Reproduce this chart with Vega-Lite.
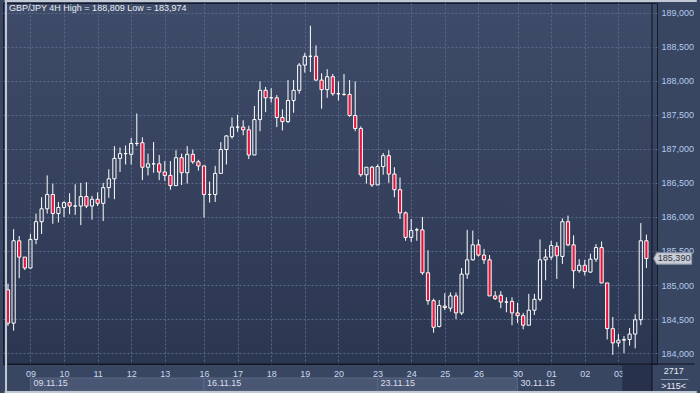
{
  "$schema": "https://vega.github.io/schema/vega-lite/v6.json",
  "width": 654,
  "height": 361,
  "autosize": {"type": "none"},
  "padding": {"left": 3, "top": 3, "right": 43, "bottom": 29},
  "background": "#394661",
  "config": {
    "view": {
      "stroke": "#151b2b",
      "strokeWidth": 1,
      "fill": {"gradient": "linear", "x1": 0, "y1": 0, "x2": 0, "y2": 1,
        "stops": [{"offset": 0, "color": "#3f4c69"}, {"offset": 1, "color": "#2b3651"}]}
    },
    "font": "Liberation Sans",
    "axis": {
      "grid": true, "gridDash": [2, 2], "gridColor": "#5a6989", "gridWidth": 1,
      "ticks": false, "domain": false, "labelFont": "Liberation Sans", "labelFontSize": 9,
      "labelOverlap": false, "labelFlush": false, "labelBound": false, "title": null
    }
  },
  "datasets": {
    "candles": [
      {"i":0,"o":184.93,"h":185.02,"l":184.40,"c":184.44},
      {"i":1,"o":184.44,"h":185.82,"l":184.33,"c":185.65},
      {"i":2,"o":185.65,"h":185.72,"l":185.10,"c":185.41},
      {"i":3,"o":185.41,"h":185.41,"l":185.22,"c":185.25},
      {"i":4,"o":185.25,"h":185.75,"l":185.24,"c":185.67},
      {"i":5,"o":185.67,"h":186.05,"l":185.60,"c":185.93},
      {"i":6,"o":185.93,"h":186.29,"l":185.75,"c":186.12},
      {"i":7,"o":186.12,"h":186.61,"l":186.05,"c":186.33},
      {"i":8,"o":186.33,"h":186.49,"l":185.90,"c":186.05},
      {"i":9,"o":186.05,"h":186.22,"l":185.92,"c":186.14},
      {"i":10,"o":186.14,"h":186.23,"l":186.00,"c":186.21},
      {"i":11,"o":186.21,"h":186.35,"l":186.04,"c":186.16},
      {"i":12,"o":186.16,"h":186.48,"l":186.03,"c":186.16},
      {"i":13,"o":186.16,"h":186.50,"l":185.88,"c":186.30},
      {"i":14,"o":186.30,"h":186.51,"l":186.13,"c":186.16},
      {"i":15,"o":186.16,"h":186.31,"l":185.96,"c":186.26},
      {"i":16,"o":186.26,"h":186.36,"l":186.16,"c":186.20},
      {"i":17,"o":186.20,"h":186.50,"l":185.94,"c":186.43},
      {"i":18,"o":186.43,"h":186.70,"l":186.28,"c":186.56},
      {"i":19,"o":186.56,"h":187.04,"l":186.26,"c":186.86},
      {"i":20,"o":186.86,"h":187.02,"l":186.66,"c":186.93},
      {"i":21,"o":186.93,"h":187.05,"l":186.77,"c":186.93},
      {"i":22,"o":186.92,"h":187.16,"l":186.77,"c":187.08},
      {"i":23,"o":187.08,"h":187.52,"l":187.04,"c":187.08},
      {"i":24,"o":187.09,"h":187.17,"l":186.54,"c":186.73},
      {"i":25,"o":186.73,"h":186.93,"l":186.61,"c":186.78},
      {"i":26,"o":186.78,"h":187.10,"l":186.65,"c":186.78},
      {"i":27,"o":186.78,"h":186.91,"l":186.54,"c":186.66},
      {"i":28,"o":186.66,"h":186.82,"l":186.53,"c":186.61},
      {"i":29,"o":186.61,"h":186.82,"l":186.40,"c":186.46},
      {"i":30,"o":186.46,"h":186.98,"l":186.46,"c":186.87},
      {"i":31,"o":186.87,"h":186.93,"l":186.47,"c":186.65},
      {"i":32,"o":186.65,"h":187.04,"l":186.49,"c":186.92},
      {"i":33,"o":186.92,"h":186.99,"l":186.78,"c":186.81},
      {"i":34,"o":186.81,"h":186.84,"l":186.68,"c":186.75},
      {"i":35,"o":186.75,"h":186.75,"l":185.99,"c":186.33},
      {"i":36,"o":186.33,"h":186.52,"l":186.21,"c":186.33},
      {"i":37,"o":186.33,"h":186.75,"l":186.22,"c":186.64},
      {"i":38,"o":186.64,"h":187.10,"l":186.64,"c":186.99},
      {"i":39,"o":186.99,"h":187.20,"l":186.77,"c":187.19},
      {"i":40,"o":187.18,"h":187.46,"l":187.15,"c":187.32},
      {"i":41,"o":187.32,"h":187.50,"l":187.25,"c":187.32},
      {"i":42,"o":187.32,"h":187.42,"l":187.20,"c":187.28},
      {"i":43,"o":187.28,"h":187.34,"l":186.85,"c":186.91},
      {"i":44,"o":186.91,"h":187.63,"l":186.91,"c":187.43},
      {"i":45,"o":187.43,"h":187.99,"l":187.26,"c":187.86},
      {"i":46,"o":187.86,"h":187.91,"l":187.54,"c":187.75},
      {"i":47,"o":187.75,"h":187.89,"l":187.68,"c":187.75},
      {"i":48,"o":187.75,"h":187.79,"l":187.32,"c":187.46},
      {"i":49,"o":187.46,"h":187.58,"l":187.27,"c":187.40},
      {"i":50,"o":187.40,"h":188.01,"l":187.38,"c":187.71},
      {"i":51,"o":187.71,"h":188.01,"l":187.53,"c":187.86},
      {"i":52,"o":187.86,"h":188.26,"l":187.81,"c":188.23},
      {"i":53,"o":188.23,"h":188.41,"l":188.12,"c":188.36},
      {"i":54,"o":188.36,"h":188.809,"l":188.13,"c":188.36},
      {"i":55,"o":188.36,"h":188.52,"l":188.00,"c":188.01},
      {"i":56,"o":188.01,"h":188.11,"l":187.59,"c":187.87},
      {"i":57,"o":187.87,"h":188.17,"l":187.75,"c":188.06},
      {"i":58,"o":188.06,"h":188.10,"l":187.78,"c":187.81},
      {"i":59,"o":187.81,"h":187.99,"l":187.71,"c":187.81},
      {"i":60,"o":187.80,"h":188.10,"l":187.78,"c":187.80},
      {"i":61,"o":187.80,"h":188.01,"l":187.47,"c":187.49},
      {"i":62,"o":187.49,"h":187.99,"l":187.26,"c":187.30},
      {"i":63,"o":187.30,"h":187.33,"l":186.59,"c":186.62},
      {"i":64,"o":186.62,"h":186.73,"l":186.49,"c":186.73},
      {"i":65,"o":186.73,"h":186.75,"l":186.44,"c":186.47},
      {"i":66,"o":186.47,"h":186.77,"l":186.47,"c":186.74},
      {"i":67,"o":186.74,"h":186.94,"l":186.62,"c":186.90},
      {"i":68,"o":186.90,"h":186.98,"l":186.50,"c":186.63},
      {"i":69,"o":186.63,"h":186.73,"l":186.29,"c":186.40},
      {"i":70,"o":186.40,"h":186.58,"l":185.97,"c":186.06},
      {"i":71,"o":186.06,"h":186.08,"l":185.65,"c":185.70},
      {"i":72,"o":185.70,"h":185.97,"l":185.63,"c":185.80},
      {"i":73,"o":185.81,"h":185.84,"l":185.65,"c":185.81},
      {"i":74,"o":185.81,"h":186.00,"l":185.15,"c":185.18},
      {"i":75,"o":185.18,"h":185.51,"l":184.71,"c":184.77},
      {"i":76,"o":184.77,"h":184.80,"l":184.30,"c":184.38},
      {"i":77,"o":184.39,"h":184.78,"l":184.38,"c":184.70},
      {"i":78,"o":184.69,"h":184.88,"l":184.63,"c":184.67},
      {"i":79,"o":184.66,"h":184.89,"l":184.61,"c":184.84},
      {"i":80,"o":184.84,"h":184.89,"l":184.50,"c":184.59},
      {"i":81,"o":184.59,"h":185.25,"l":184.56,"c":185.16},
      {"i":82,"o":185.16,"h":185.81,"l":185.09,"c":185.37},
      {"i":83,"o":185.37,"h":185.80,"l":185.36,"c":185.59},
      {"i":84,"o":185.59,"h":185.67,"l":185.42,"c":185.44},
      {"i":85,"o":185.44,"h":185.53,"l":185.31,"c":185.37},
      {"i":86,"o":185.37,"h":185.44,"l":184.84,"c":184.84},
      {"i":87,"o":184.84,"h":184.91,"l":184.78,"c":184.80},
      {"i":88,"o":184.85,"h":184.91,"l":184.66,"c":184.75},
      {"i":89,"o":184.75,"h":184.82,"l":184.60,"c":184.75},
      {"i":90,"o":184.76,"h":184.82,"l":184.41,"c":184.59},
      {"i":91,"o":184.59,"h":184.74,"l":184.44,"c":184.55},
      {"i":92,"o":184.55,"h":184.59,"l":184.35,"c":184.41},
      {"i":93,"o":184.41,"h":184.87,"l":184.41,"c":184.63},
      {"i":94,"o":184.63,"h":184.87,"l":184.56,"c":184.79},
      {"i":95,"o":184.79,"h":185.67,"l":184.76,"c":185.37},
      {"i":96,"o":185.37,"h":185.53,"l":185.07,"c":185.41},
      {"i":97,"o":185.41,"h":185.65,"l":185.37,"c":185.58},
      {"i":98,"o":185.57,"h":185.63,"l":185.09,"c":185.43},
      {"i":99,"o":185.42,"h":185.98,"l":185.31,"c":185.93},
      {"i":100,"o":185.93,"h":186.02,"l":185.57,"c":185.59},
      {"i":101,"o":185.59,"h":185.73,"l":184.95,"c":185.21},
      {"i":102,"o":185.21,"h":185.38,"l":185.18,"c":185.29},
      {"i":103,"o":185.29,"h":185.37,"l":185.14,"c":185.20},
      {"i":104,"o":185.19,"h":185.46,"l":185.18,"c":185.38},
      {"i":105,"o":185.38,"h":185.60,"l":185.34,"c":185.55},
      {"i":106,"o":185.55,"h":185.64,"l":185.03,"c":185.03},
      {"i":107,"o":185.03,"h":185.03,"l":184.20,"c":184.36},
      {"i":108,"o":184.36,"h":184.53,"l":183.974,"c":184.15},
      {"i":109,"o":184.15,"h":184.28,"l":184.09,"c":184.19},
      {"i":110,"o":184.19,"h":184.25,"l":184.00,"c":184.20},
      {"i":111,"o":184.20,"h":184.37,"l":184.11,"c":184.28},
      {"i":112,"o":184.28,"h":184.57,"l":184.07,"c":184.49},
      {"i":113,"o":184.49,"h":185.91,"l":184.41,"c":185.65},
      {"i":114,"o":185.65,"h":185.74,"l":185.25,"c":185.39}
    ],
    "weeks": [
      {"w": "09.11.15", "s": 4, "e": 35},
      {"w": "16.11.15", "s": 35, "e": 66},
      {"w": "23.11.15", "s": 66, "e": 91},
      {"w": "30.11.15", "s": 91, "e": 109.7}
    ]
  },
  "layer": [
    {
      "data": {"name": "candles"},
      "transform": [{"filter": "datum.c >= datum.o"}],
      "layer": [
        {
          "mark": {"type": "rule", "color": "#ffffff", "strokeWidth": 1, "clip": true},
          "encoding": {
            "x": {"field": "i", "type": "quantitative", "title": null,
              "scale": {"domain": [0, 115], "nice": false, "zero": false},
              "axis": {
                "values": [4,10,16,22,28,35,41,47,53,59,66,72,78,84,91,97,103,109],
                "labelExpr": "['09','10','11','12','13','16','17','18','19','20','23','24','25','26','30','01','02','03'][indexof([4,10,16,22,28,35,41,47,53,59,66,72,78,84,91,97,103,109], datum.value)]",
                "labelColor": "#c9d8f0", "labelBaseline": "middle", "labelPadding": 9, "labelAlign": "center",
                "labelOverlap": false, "labelFlush": false, "labelBound": false, "tickCount": 18
              }},
            "y": {"field": "h", "type": "quantitative", "title": null,
              "scale": {"domain": [183.84, 189.1425], "nice": false, "zero": false},
              "axis": {
                "orient": "right",
                "values": [184, 184.5, 185, 185.5, 186, 186.5, 187, 187.5, 188, 188.5, 189],
                "labelExpr": "replace(format(datum.value, '.3f'), '.', ',')",
                "labelColor": "#b3cbed", "labelPadding": 4, "labelBaseline": "middle",
                "labelOverlap": false, "labelFlush": false, "labelBound": false, "tickCount": 11
              }},
            "y2": {"field": "c"}
          }
        },
        {
          "mark": {"type": "rule", "color": "#ffffff", "strokeWidth": 1, "clip": true},
          "encoding": {
            "x": {"field": "i", "type": "quantitative", "title": null},
            "y": {"field": "o", "type": "quantitative", "title": null},
            "y2": {"field": "l"}
          }
        },
        {
          "mark": {"type": "bar", "width": 3.2, "fill": "transparent", "stroke": "#ffffff", "strokeWidth": 1, "clip": true},
          "encoding": {
            "x": {"field": "i", "type": "quantitative", "title": null},
            "y": {"field": "o", "type": "quantitative", "title": null},
            "y2": {"field": "c"}
          }
        }
      ]
    },
    {
      "data": {"name": "candles"},
      "transform": [{"filter": "datum.c < datum.o"}],
      "layer": [
        {
          "mark": {"type": "rule", "color": "#ffffff", "strokeWidth": 1, "clip": true},
          "encoding": {
            "x": {"field": "i", "type": "quantitative", "title": null},
            "y": {"field": "h", "type": "quantitative", "title": null},
            "y2": {"field": "o"}
          }
        },
        {
          "mark": {"type": "rule", "color": "#ffffff", "strokeWidth": 1, "clip": true},
          "encoding": {
            "x": {"field": "i", "type": "quantitative", "title": null},
            "y": {"field": "c", "type": "quantitative", "title": null},
            "y2": {"field": "l"}
          }
        },
        {
          "mark": {"type": "bar", "width": 3.2, "fill": "#e3173e", "stroke": "#ffffff", "strokeWidth": 1, "clip": true},
          "encoding": {
            "x": {"field": "i", "type": "quantitative", "title": null},
            "y": {"field": "o", "type": "quantitative", "title": null},
            "y2": {"field": "c"}
          }
        }
      ]
    },
    {
      "data": {"name": "weeks"},
      "transform": [{"filter": "datum.s < 91"}],
      "mark": {"type": "rect", "fill": "#4a5774", "stroke": "#5b6884", "strokeWidth": 1, "clip": false},
      "encoding": {
        "x": {"field": "s", "type": "quantitative", "title": null},
        "x2": {"field": "e"},
        "y": {"datum": 183.634, "type": "quantitative"},
        "y2": {"datum": 183.443}
      }
    },
    {
      "data": {"name": "weeks"},
      "mark": {"type": "text", "align": "left", "baseline": "middle", "dx": 3, "fontSize": 9, "color": "#d8dfeb", "clip": false},
      "encoding": {
        "x": {"field": "s", "type": "quantitative", "title": null},
        "y": {"datum": 183.557, "type": "quantitative"},
        "text": {"field": "w"}
      }
    },
    {
      "data": {"values": [{}]},
      "mark": {"type": "rect", "fill": "#27314b", "clip": false},
      "encoding": {
        "x": {"datum": 109.7, "type": "quantitative"},
        "x2": {"datum": 115},
        "y": {"datum": 183.84, "type": "quantitative"},
        "y2": {"datum": 183.414}
      }
    },
    {
      "data": {"values": [{}]},
      "mark": {"type": "rule", "color": "#10141f", "strokeWidth": 1, "clip": false},
      "encoding": {
        "x": {"datum": 115, "type": "quantitative"},
        "y": {"datum": 189.1425, "type": "quantitative"},
        "y2": {"datum": 183.414}
      }
    },
    {
      "data": {"values": [{}]},
      "mark": {"type": "rule", "color": "#10141f", "strokeWidth": 1, "clip": false},
      "encoding": {
        "x": {"datum": 0, "type": "quantitative"},
        "x2": {"datum": 122.6},
        "y": {"datum": 183.84, "type": "quantitative"}
      }
    },
    {
      "data": {"values": [{}]},
      "mark": {"type": "rule", "color": "#c2c8d2", "strokeWidth": 2, "clip": false},
      "encoding": {
        "x": {"datum": -0.6, "type": "quantitative"},
        "x2": {"datum": 123},
        "y": {"datum": 189.172, "type": "quantitative"}
      }
    },
    {
      "data": {"values": [{}]},
      "mark": {"type": "rule", "color": "#c2c8d2", "strokeWidth": 2, "clip": false},
      "encoding": {
        "x": {"datum": -0.6, "type": "quantitative"},
        "x2": {"datum": 123},
        "y": {"datum": 183.429, "type": "quantitative"}
      }
    },
    {
      "data": {"values": [{}]},
      "mark": {"type": "rule", "color": "#c2c8d2", "strokeWidth": 2, "clip": false},
      "encoding": {
        "x": {"datum": -0.352, "type": "quantitative"},
        "y": {"datum": 189.2, "type": "quantitative"},
        "y2": {"datum": 183.41}
      }
    },
    {
      "data": {"values": [{}]},
      "mark": {"type": "text", "align": "left", "baseline": "middle", "dx": 1, "fontSize": 9, "color": "#e8edf5", "clip": false},
      "encoding": {
        "x": {"datum": 0, "type": "quantitative"},
        "y": {"datum": 189.069, "type": "quantitative"},
        "text": {"value": "GBP/JPY 4H  High = 188,809 Low = 183,974"}
      }
    },
    {
      "data": {"values": [{}]},
      "mark": {"type": "point", "shape": "M-1,0L-0.84,-0.3L1,-0.3L1,0.3L-0.84,0.3Z", "size": 1444, "filled": true, "fill": "#c9cdd5", "stroke": "#8e96a6", "strokeWidth": 1, "opacity": 1, "clip": false},
      "encoding": {
        "x": {"datum": 118.69, "type": "quantitative"},
        "y": {"datum": 185.39, "type": "quantitative"}
      }
    },
    {
      "data": {"values": [{}]},
      "mark": {"type": "text", "align": "center", "baseline": "middle", "fontSize": 9, "color": "#2d3342", "clip": false},
      "encoding": {
        "x": {"datum": 118.95, "type": "quantitative"},
        "y": {"datum": 185.39, "type": "quantitative"},
        "text": {"value": "185,390"}
      }
    },
    {
      "data": {"values": [{}]},
      "mark": {"type": "text", "align": "center", "baseline": "middle", "fontSize": 9, "color": "#e6ebf3", "clip": false},
      "encoding": {
        "x": {"datum": 118.87, "type": "quantitative"},
        "y": {"datum": 183.73, "type": "quantitative"},
        "text": {"value": "2717"}
      }
    },
    {
      "data": {"values": [{}]},
      "mark": {"type": "rule", "color": "#8d99b0", "strokeWidth": 1, "clip": false},
      "encoding": {
        "x": {"datum": 116.58, "type": "quantitative"},
        "x2": {"datum": 121.5},
        "y": {"datum": 183.612, "type": "quantitative"}
      }
    },
    {
      "data": {"values": [{}]},
      "mark": {"type": "text", "align": "center", "baseline": "middle", "fontSize": 9, "color": "#e6ebf3", "clip": false},
      "encoding": {
        "x": {"datum": 118.87, "type": "quantitative"},
        "y": {"datum": 183.522, "type": "quantitative"},
        "text": {"value": ">115<"}
      }
    }
  ]
}
